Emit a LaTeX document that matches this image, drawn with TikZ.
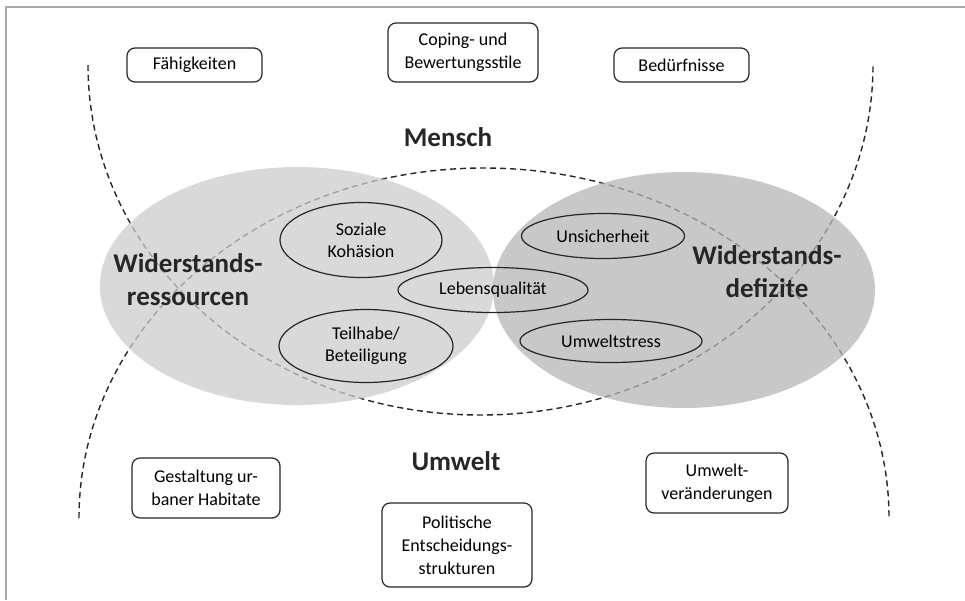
\documentclass[tikz,border=0pt]{standalone}
\usepackage{fontspec}
\setmainfont{Carlito}
\usetikzlibrary{shapes.geometric}
\definecolor{resgray}{gray}{0.80}
\definecolor{defgray}{gray}{0.71}
\definecolor{framegray}{RGB}{170,170,170}
\tikzstyle{infobox} = [rectangle, rounded corners=8pt, draw=black!85, line width=1.2pt, align=center, inner sep=0pt, font=\fontsize{18}{23}\selectfont]
\tikzstyle{factor} = [ellipse, draw=black!85, line width=1.2pt, align=center, inner sep=0pt, font=\fontsize{18}{22}\selectfont]
\tikzstyle{zone} = [ellipse, inner sep=0pt, fill opacity=0.75]
\tikzstyle{headline} = [font=\fontsize{27}{33}\selectfont\bfseries, align=center, text=black!85]
\tikzstyle{zoneline} = [dash pattern=on 6pt off 4pt, line width=1.4pt, black!85]

\begin{document}
\begin{tikzpicture}[x=1pt, y=-1pt]
        \useasboundingbox (0,0) rectangle (965,600);
        % Frame
        \draw[framegray, line width=2pt] (6,600) -- (6,7) -- (965,7);

        % Mensch and Umwelt
        \draw[zoneline] (88,65) arc[start angle=180, end angle=0, x radius=392.5, y radius=350];
        \draw[zoneline] (79,518) arc[start angle=180, end angle=360, x radius=405, y radius=350];

        % Resistance zones
        \node[zone, fill=resgray, minimum width=394pt, minimum height=238pt] (ressourcen) at (297,286) {};
        \node[zone, fill=defgray, minimum width=382pt, minimum height=236pt] (defizite) at (684,290) {};

        % Factors
        \node[factor, minimum width=162pt, minimum height=75pt] (kohaesion) at (361,240) {Soziale\\Kohäsion};
        \node[factor, minimum width=174pt, minimum height=73pt] (teilhabe) at (366,346) {Teilhabe/\\Beteiligung};
        \node[factor, minimum width=190pt, minimum height=45pt] (lebensq) at (493,290) {Lebensqualität};
        \node[factor, minimum width=163pt, minimum height=45pt] (unsicher) at (603,236) {Unsicherheit};
        \node[factor, minimum width=182pt, minimum height=43pt] (stress) at (611,341) {Umweltstress};

        % Labels
        \node[headline] (reslabel) at (188,280) {Widerstands-\\ressourcen};
        \node[headline] (deflabel) at (767,272) {Widerstands-\\defizite};
        \node[headline] (mensch) at (448,137) {Mensch};
        \node[headline] (umwelt) at (456,461) {Umwelt};

        % Person side
        \node[infobox, minimum width=135pt, minimum height=34pt] (faehig) at (194.5,65) {Fähigkeiten};
        \node[infobox, minimum width=150pt, minimum height=59pt] (coping) at (463,52.5) {Coping- und\\Bewertungsstile};
        \node[infobox, minimum width=135pt, minimum height=34pt] (beduerf) at (681.5,65) {Bedürfnisse};

        % Environment side
        \node[infobox, minimum width=148pt, minimum height=60pt] (habitat) at (206,488) {Gestaltung ur-\\baner Habitate};
        \node[infobox, minimum width=150pt, minimum height=84pt] (politik) at (457,545) {Politische\\Entscheidungs-\\strukturen};
        \node[infobox, minimum width=142pt, minimum height=60pt] (wandel) at (717,483) {Umwelt-\\veränderungen};
    \end{tikzpicture}
\end{document}
